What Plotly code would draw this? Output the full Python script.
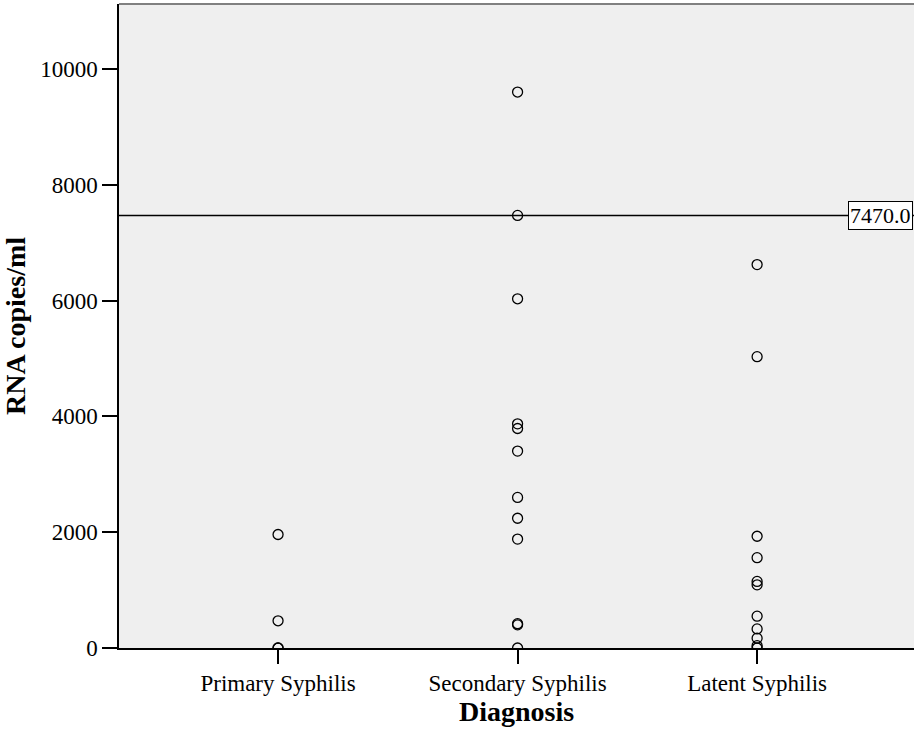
import plotly.graph_objects as go

categories = ["Primary Syphilis", "Secondary Syphilis", "Latent Syphilis"]
primary = [1960, 470, 0, 0]
secondary = [9600, 7470, 6030, 3870, 3790, 3400, 2600, 2240, 1880, 420, 400, 0]
latent = [6620, 5030, 1930, 1560, 1150, 1090, 550, 330, 170, 40, 0]
ref_value = 7470.0
y_ticks = [0, 2000, 4000, 6000, 8000, 10000]

groups = [primary, secondary, latent]
xs, ys = [], []
for i, vals in enumerate(groups):
    xs += [i] * len(vals)
    ys += vals

SERIF = "Liberation Serif, Times New Roman, serif"

fig = go.Figure()
fig.add_trace(go.Scatter(
    x=xs, y=ys, mode="markers",
    marker=dict(symbol="circle-open", size=10, color="black", line=dict(width=1.3, color="black")),
    showlegend=False,
))

fig.add_shape(type="line", xref="paper", yref="y", x0=0, x1=1, y0=ref_value, y1=ref_value,
              line=dict(color="black", width=1.5))
fig.add_shape(type="line", xref="paper", yref="paper", x0=0, x1=1, y0=1, y1=1,
              line=dict(color="#808080", width=2))
fig.add_annotation(x=2.38, y=ref_value, xref="x", yref="y", text=f"{ref_value:.1f}",
                   showarrow=False, xanchor="left", yanchor="middle",
                   bgcolor="white", bordercolor="black", borderwidth=1, borderpad=1,
                   font=dict(family=SERIF, size=22, color="black"))

fig.update_layout(
    width=914, height=733,
    margin=dict(l=119, r=0, t=4, b=85),
    paper_bgcolor="white", plot_bgcolor="#efefef",
    font=dict(family=SERIF, size=23, color="black"),
)
fig.update_xaxes(
    range=[-0.664, 2.655], tickmode="array", tickvals=[0, 1, 2], ticktext=categories,
    ticks="outside", ticklen=14, tickwidth=1.5, tickcolor="black",
    showline=True, linecolor="black", linewidth=1.5, showgrid=False, zeroline=False,
    tickfont=dict(family=SERIF, size=23),
    title=dict(text="<b>Diagnosis</b>", font=dict(family=SERIF, size=28), standoff=6),
)
fig.update_yaxes(
    range=[0, 11120], tickmode="array", tickvals=y_ticks, ticktext=[str(v) for v in y_ticks],
    ticks="outside", ticklen=15, tickwidth=1.5, tickcolor="black",
    showline=True, linecolor="black", linewidth=1.5, showgrid=False, zeroline=False,
    tickfont=dict(family=SERIF, size=23),
    title=dict(text="<b>RNA copies/ml</b>", font=dict(family=SERIF, size=28), standoff=14),
)

fig.write_html("out.html")
